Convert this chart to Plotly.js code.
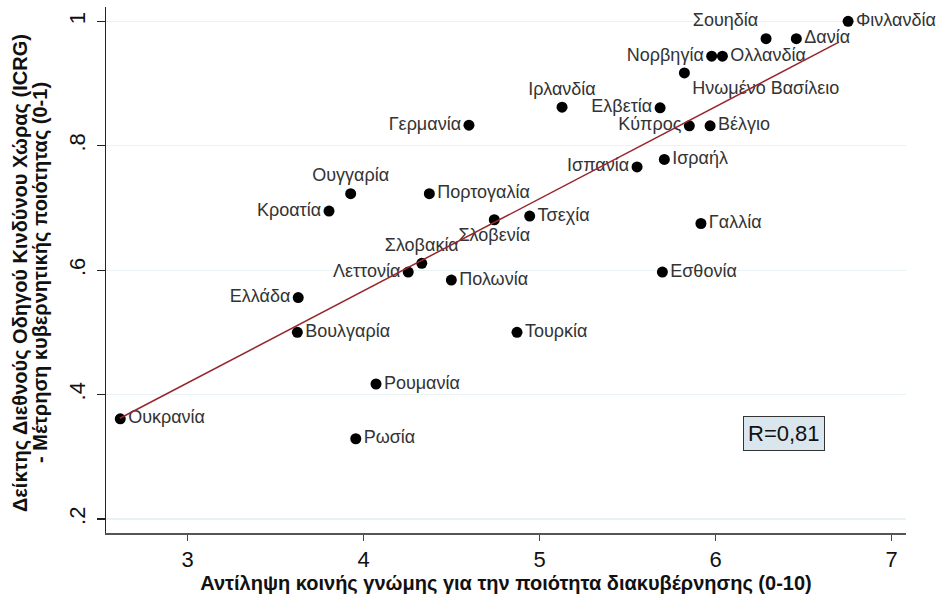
<!DOCTYPE html>
<html>
<head>
<meta charset="utf-8">
<script src="https://cdn.plot.ly/plotly-3.0.1.min.js"></script>
<style>html,body{margin:0;padding:0;background:#fff}#chart{width:943px;height:594px}</style>
</head>
<body>
<div id="chart"></div>
<script>
// Countries and values
const countries = ["Φινλανδία","Δανία","Σουηδία","Νορβηγία","Ολλανδία","Ηνωμένο Βασίλειο","Ελβετία","Κύπρος","Βέλγιο","Ιρλανδία","Γερμανία","Ισπανία","Ισραήλ","Γαλλία","Εσθονία","Τσεχία","Ουγγαρία","Πορτογαλία","Κροατία","Σλοβενία","Σλοβακία","Λεττονία","Πολωνία","Ελλάδα","Βουλγαρία","Ρουμανία","Ουκρανία","Ρωσία","Τουρκία"];
const publicOpinion = [6.752,6.458,6.286,5.977,6.038,5.822,5.684,5.850,5.968,5.127,4.598,5.553,5.708,5.916,5.697,4.943,3.926,4.373,3.803,4.742,4.330,4.253,4.498,3.628,3.623,4.070,2.617,3.955,4.871];
const icrg = [1.000,0.972,0.972,0.944,0.944,0.917,0.861,0.832,0.832,0.862,0.833,0.766,0.778,0.675,0.597,0.687,0.723,0.723,0.695,0.681,0.611,0.597,0.584,0.556,0.500,0.417,0.361,0.329,0.500];
const labelPos = ["middle right","middle right","top left","middle left","middle right","bottom right","middle left","middle left","middle right","top center","middle left","middle left","middle right","middle right","middle right","middle right","top center","middle right","middle left","bottom center","top center","middle left","middle right","middle left","middle right","middle right","middle right","middle right","middle right"];

// Fitted line endpoints
const fitX = [2.615, 6.697];
const fitY = [0.362, 0.966];

const yTickVals = [0.2, 0.4, 0.6, 0.8, 1];
const yTickText = [".2", ".4", ".6", ".8", "1"];
const xTickVals = [3, 4, 5, 6, 7];
const rText = "R=0,81";
const xTitle = "Αντίληψη κοινής γνώμης για την ποιότητα διακυβέρνησης (0-10)";
const yTitleLines = ["Δείκτης Διεθνούς Οδηγού Κινδύνου Χώρας (ICRG)", "- Μέτρηση κυβερνητικής ποιότητας (0-1)"];

const FONT = "Liberation Sans, Arial, sans-serif";

const traces = [
  {
    x: publicOpinion, y: icrg, text: countries,
    type: "scatter", mode: "markers+text",
    textposition: labelPos,
    textfont: {family: FONT, size: 18, color: "#333333"},
    marker: {color: "#000000", size: 11, line: {width: 0}},
    hoverinfo: "text", showlegend: false, cliponaxis: false
  },
  {
    x: fitX, y: fitY, type: "scatter", mode: "lines",
    line: {color: "#97262c", width: 1.5}, showlegend: false, hoverinfo: "skip"
  }
];

const titleFont = {family: FONT, size: 20, color: "#111", weight: "bold"};

const layout = {
  width: 943, height: 594,
  margin: {l: 106, r: 37, t: 7, b: 61},
  paper_bgcolor: "#ffffff", plot_bgcolor: "#ffffff",
  font: {family: FONT, color: "#111111"},
  showlegend: false,
  xaxis: {
    range: [2.536, 7.081],
    tickvals: xTickVals, ticktext: xTickVals.map(String),
    ticks: "outside", ticklen: 6, tickwidth: 1.2, tickcolor: "#444",
    showline: true, linecolor: "#555555", linewidth: 1.5,
    showgrid: false, zeroline: false,
    tickfont: {family: FONT, size: 22, color: "#111"},
    title: {text: xTitle, font: titleFont, standoff: 4},
    automargin: false
  },
  yaxis: {
    range: [0.1775, 1.023],
    tickvals: yTickVals, ticktext: yTickText,
    tickangle: -90, ticklabelstandoff: 3,
    ticks: "outside", ticklen: 8, tickwidth: 1.2, tickcolor: "#222",
    showline: true, linecolor: "#222222", linewidth: 1.5,
    showgrid: true, gridcolor: "#e9f2f5", gridwidth: 1.2, zeroline: false,
    tickfont: {family: FONT, size: 22, color: "#111"},
    automargin: false
  },
  annotations: [
    {
      x: 6.386, y: 0.338, xref: "x", yref: "y",
      text: rText, showarrow: false,
      font: {family: FONT, size: 22, color: "#111"},
      bgcolor: "#d9e6ee", bordercolor: "#333", borderwidth: 1, borderpad: 4
    },
    {
      x: 0, y: 0.5, xref: "paper", yref: "paper", xanchor: "center", yanchor: "middle",
      xshift: -86, yshift: -3, textangle: -90, showarrow: false,
      text: yTitleLines[0], font: titleFont
    },
    {
      x: 0, y: 0.5, xref: "paper", yref: "paper", xanchor: "center", yanchor: "middle",
      xshift: -66, yshift: -3, textangle: -90, showarrow: false,
      text: yTitleLines[1], font: titleFont
    }
  ]
};

Plotly.newPlot("chart", traces, layout, {displayModeBar: false, staticPlot: true});
</script>
</body>
</html>
